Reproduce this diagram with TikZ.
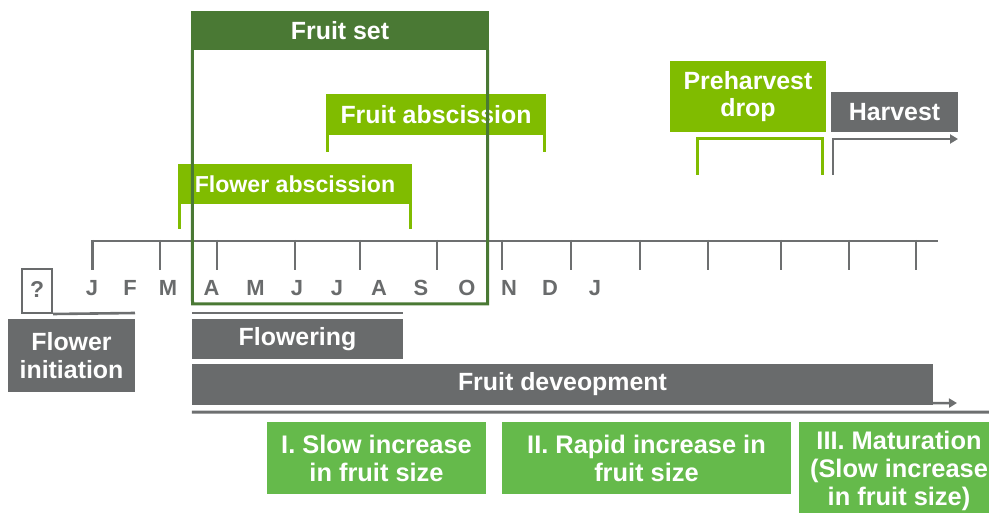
\documentclass[tikz,border=0pt]{standalone}
\usepackage{fontspec}
\setmainfont{Liberation Sans}
\usetikzlibrary{arrows.meta}
\definecolor{cgray}{HTML}{696B6C}
\definecolor{cline}{HTML}{6D6F70}
\definecolor{cdark}{HTML}{4A7934}
\definecolor{clight}{HTML}{80BC00}
\definecolor{cmid}{HTML}{65BA4B}
\begin{document}
\begin{tikzpicture}[x=1bp,y=-1bp,
  lab/.style={font=\bfseries\fontsize{25}{27.5}\selectfont, text=white, inner sep=0pt, align=center},
  graybox/.style={lab, fill=cgray},
  limebox/.style={lab, fill=clight},
  darkbox/.style={lab, fill=cdark},
  stagebox/.style={font=\bfseries\fontsize{25.5}{28}\selectfont, text=white, fill=cmid, inner sep=0pt, align=center},
  month/.style={font=\bfseries\fontsize{22}{22}\selectfont, text=cgray, inner sep=0pt},
  axisline/.style={draw=cline, line width=2.8bp},
  grayline/.style={draw=cline, line width=2.6bp},
  limeline/.style={draw=clight, line width=3bp},
  setline/.style={draw=cdark, line width=3bp},
  tip/.style={-{Triangle[length=8bp,width=9bp]}}
]
\useasboundingbox (0,0) rectangle (989,513);

% timeline axis
\coordinate (ax0) at (92.5,241);
\coordinate (ax1) at (938,241);
\draw[axisline] (ax0) -- (ax1);
\foreach \x in {92.5,160,217,295,360,437,502,571,640,708,781,849,916}
  \draw[axisline] (\x,240) -- (\x,270);

% months
\node[month] (m1) at (92,288) {J};
\node[month] (m2) at (130,288) {F};
\node[month] (m3) at (168,288) {M};
\node[month] (m4) at (211.5,288) {A};
\node[month] (m5) at (255.5,288) {M};
\node[month] (m6) at (297,288) {J};
\node[month] (m7) at (337,288) {J};
\node[month] (m8) at (379,288) {A};
\node[month] (m9) at (421,288) {S};
\node[month] (m10) at (467,288) {O};
\node[month] (m11) at (509,288) {N};
\node[month] (m12) at (550,288) {D};
\node[month] (m13) at (595,288) {J};

% question box and flower initiation
\node[draw=cgray, line width=2bp, minimum width=30bp, minimum height=44bp, inner sep=0pt,
      font=\bfseries\fontsize{23}{23}\selectfont, text=cgray] (q) at (37,291) {\raisebox{3bp}{?}};
\coordinate (qe) at (135,313);
\draw[grayline] (q.south east) -- (qe);
\node[graybox, minimum width=127bp, minimum height=73bp] (finit) at (71.5,355.5) {Flower\\initiation};

% flowering
\node[graybox, minimum width=211bp, minimum height=40bp] (flow) at (297.5,339) {Flowering};
\draw[grayline] ([yshift=6bp]flow.north west) -- ([yshift=6bp]flow.north east);

% fruit development
\node[graybox, minimum width=741bp, minimum height=41bp] (fdev) at (562.5,384.5) {Fruit deveopment};
\coordinate (fda) at (957,403);
\draw[grayline, line width=2.4bp, tip] ([yshift=2bp]fdev.south east) -- (fda);
\coordinate (ul) at (989,412);
\draw[grayline, line width=3bp] ([yshift=-7bp]fdev.south west) -- (ul);

% stages
\node[stagebox, minimum width=219bp, minimum height=72bp] (s1) at (376.5,458) {I. Slow increase\\in fruit size};
\node[stagebox, minimum width=289bp, minimum height=72bp] (s2) at (646.5,458) {II. Rapid increase in\\fruit size};
\node[stagebox, minimum width=200bp, minimum height=98bp] (s3) at (899,471) {III. Maturation\\(Slow increase\\in fruit size)};

% flower abscission
\node[limebox, font=\bfseries\fontsize{23.2}{27.5}\selectfont, minimum width=234bp, minimum height=40bp] (flabs) at (295,184) {Flower abscission};
\draw[limeline] ([xshift=1.5bp]flabs.south west) -- ++(0,25);
\draw[limeline] ([xshift=-1.5bp]flabs.south east) -- ++(0,25);

% fruit abscission
\node[limebox, minimum width=220bp, minimum height=41bp] (fabs) at (436,114.5) {Fruit abscission};
\draw[limeline] ([xshift=1.5bp]fabs.south west) -- ++(0,17);
\draw[limeline] ([xshift=-1.5bp]fabs.south east) -- ++(0,17);

% fruit set
\node[darkbox, minimum width=298bp, minimum height=39bp] (fset) at (340,30.5) {Fruit set};
\coordinate (fsbl) at (192.5,304);
\coordinate (fsbr) at (487.5,304);
\draw[setline] ([xshift=1.5bp]fset.south west) -- (fsbl) -- (fsbr) -- ([xshift=-1.5bp]fset.south east);

% preharvest drop
\node[limebox, minimum width=156bp, minimum height=71bp] (preh) at (748,96.5) {Preharvest\\drop};
\coordinate (pl) at (697,175);
\coordinate (ptl) at (697,138.5);
\coordinate (ptr) at (822.5,138.5);
\coordinate (pr) at (822.5,175);
\draw[limeline] (pl) -- (ptl) -- (ptr) -- (pr);

% harvest
\node[graybox, minimum width=127bp, minimum height=40bp] (harv) at (894.5,112) {Harvest};
\coordinate (hb) at (833,175);
\coordinate (hc) at (833,139);
\coordinate (he) at (958,139);
\draw[grayline, tip] (hb) -- (hc) -- (he);
\end{tikzpicture}
\end{document}
